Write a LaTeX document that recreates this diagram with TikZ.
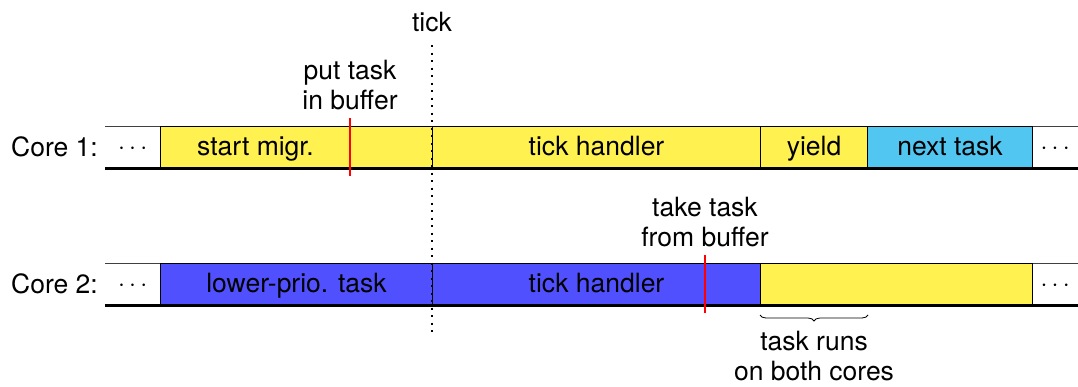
\documentclass[tikz,border=0pt]{standalone}
\usepackage{fontspec}
\setmainfont{TeX Gyre Heros}
\usetikzlibrary{decorations.pathreplacing}
\definecolor{cyel}{RGB}{255,242,80}
\definecolor{ccyan}{RGB}{80,198,240}
\definecolor{cblue}{RGB}{80,80,255}
\begin{document}
\begin{tikzpicture}[x=1pt,y=-1pt,
  font=\fontsize{26.5}{30}\selectfont,
  seg/.style={draw=black, line width=1pt, minimum height=41pt, inner sep=0pt,
    anchor=north west, text height=20pt, text depth=4pt},
  gap/.style={minimum height=41pt, inner sep=0pt, anchor=north west,
    text height=20pt, text depth=4pt},
  topline/.style={draw=black!75, line width=1pt},
  baseline/.style={draw=black, line width=3.5pt},
  marker/.style={draw=red, line width=2pt},
  lbl/.style={align=center, inner sep=0pt},
]
\useasboundingbox (0,0) rectangle (1078,386);

% ---------- Core 1 ----------
\coordinate (r1s) at (105,126);
\coordinate (r1e) at (1078,126);
\coordinate (r1bs) at (105,168.5);
\coordinate (r1be) at (1078,168.5);
\draw[topline] (r1s) -- (r1e);
\node[gap, minimum width=55pt] (a1) at (105,126) {$\cdots$};
\node[seg, fill=cyel, minimum width=190pt] (a2) at (160,126) {start migr.};
\node[seg, fill=cyel, minimum width=82pt] (a3) at (350,126) {};
\node[seg, fill=cyel, minimum width=328pt] (a4) at (432,126) {tick handler};
\node[seg, fill=cyel, minimum width=107pt] (a5) at (760,126) {yield};
\node[seg, fill=ccyan, minimum width=165pt] (a6) at (867,126) {next task};
\node[gap, minimum width=46pt] (a7) at (1032,126) {$\cdots$};
\draw[baseline] (r1bs) -- (r1be);
\node[anchor=east, inner sep=0pt] (c1) at (98,147) {Core 1:};

% ---------- Core 2 ----------
\coordinate (r2s) at (105,263);
\coordinate (r2e) at (1078,263);
\coordinate (r2bs) at (105,305.5);
\coordinate (r2be) at (1078,305.5);
\draw[topline] (r2s) -- (r2e);
\node[gap, minimum width=55pt] (b1) at (105,263) {$\cdots$};
\node[seg, fill=cblue, minimum width=272pt] (b2) at (160,263) {lower-prio. task};
\node[seg, fill=cblue, minimum width=328pt] (b3) at (432,263) {tick handler};
\node[seg, fill=cyel, minimum width=272pt] (b4) at (760,263) {};
\node[gap, minimum width=46pt] (b5) at (1032,263) {$\cdots$};
\draw[baseline] (r2bs) -- (r2be);
\node[anchor=east, inner sep=0pt] (c2) at (98,284) {Core 2:};

% ---------- tick ----------
\coordinate (t1) at (432,45);
\coordinate (t2) at (432,335);
\draw[line width=2pt, dash pattern=on 2pt off 5.5pt] (t1) -- (t2);
\node[anchor=base, inner sep=0pt] (tick) at (432,31) {tick};

% ---------- markers ----------
\coordinate (m1a) at (350,118);
\coordinate (m1b) at (350,176);
\draw[marker] (m1a) -- (m1b);
\node[lbl, anchor=south] (put) at (350,110) {put task\\in buffer};

\coordinate (m2a) at (705,255);
\coordinate (m2b) at (705,313);
\draw[marker] (m2a) -- (m2b);
\node[lbl, anchor=south] (take) at (705,247) {take task\\from buffer};

% ---------- brace ----------
\coordinate (br1) at (760,315);
\coordinate (br2) at (868,315);
\draw[decorate, decoration={brace, mirror, amplitude=6pt}, line width=0.8pt] (br1) -- (br2);
\node[lbl, anchor=north] (both) at (814,331) {task runs\\on both cores};
\end{tikzpicture}
\end{document}
